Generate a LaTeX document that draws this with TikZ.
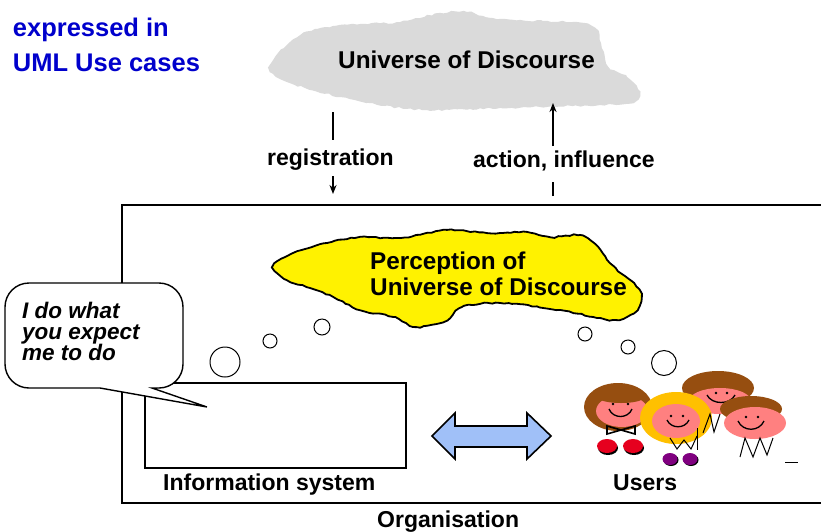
\documentclass[tikz,border=0pt]{standalone}
\usepackage{fontspec}
\setmainfont{Liberation Sans}
\usetikzlibrary{arrows.meta,decorations.pathmorphing,positioning,calc}
\definecolor{titleblue}{RGB}{0,0,204}
\definecolor{udgrey}{RGB}{218,218,218}
\definecolor{perceptyellow}{RGB}{255,242,0}
\definecolor{linkblue}{RGB}{160,192,248}
\definecolor{hairbrown}{RGB}{150,78,16}
\definecolor{hairblond}{RGB}{255,192,0}
\definecolor{skinpink}{RGB}{255,128,128}
\definecolor{shoered}{RGB}{230,0,30}
\definecolor{shoepurple}{RGB}{128,0,128}

\begin{document}
\begin{tikzpicture}[x=1pt,y=-1pt,
        lbl/.style={font=\fontsize{23}{27}\selectfont\bfseries, anchor=base west, inner sep=0pt},
        cloudtext/.style={font=\fontsize{24.3}{25.5}\selectfont\bfseries, inner sep=0pt, align=left},
        flow/.style={line width=1.6pt, -{Stealth[length=9pt,width=7pt]}},
        bubble/.style={circle, draw, line width=1pt, fill=white, inner sep=0pt},
        frame/.style={draw, line width=2pt}
    ]
    \useasboundingbox (0,0) rectangle (821,531);
    \fill[white] (0,0) rectangle (821,531);

    \node[anchor=north west, inner sep=0pt, align=left, text=titleblue,
          font=\fontsize{25.5}{35.5}\selectfont\bfseries] (title) at (12.7,17.4)
          {expressed in\\UML Use cases};

    % the world outside
    \pgfmathsetseed{7}
    \fill[udgrey, decorate, decoration={random steps, segment length=4pt, amplitude=0.9pt}]
        plot[smooth cycle, tension=0.6] coordinates {(270,67) (290,42) (317,29) (360,24) (400,22)
        (440,13) (467,12) (493,18) (543,21) (577,22) (595,28) (602,48) (608,66) (627,77) (640,92)
        (633,102) (600,105) (540,107) (470,109) (427,110) (385,106) (340,97) (305,88) (280,79)};
    \node[cloudtext, anchor=base west] (ud) at (338,68) {Universe of Discourse};

    % registration / action
    \coordinate (regA) at (333,112);
    \coordinate (regB) at (333,194);
    \node[lbl] (reg) at (267,165) {registration};
    \draw[line width=2pt] (regA) -- (regA |- 0,140);
    \draw[flow] (regA |- 0,176) -- (regB);

    \coordinate (actA) at (553,196);
    \coordinate (actB) at (553,103);
    \node[lbl] (act) at (473,167) {action, influence};
    \draw[line width=2pt] (actA) -- (actA |- 0,182);
    \draw[flow] (actA |- 0,146) -- (actB);

    % organisation
    \coordinate (orgNE) at (830,205);
    \coordinate (orgNW) at (122,205);
    \coordinate (orgSW) at (122,503);
    \coordinate (orgSE) at (830,503);
    \draw[frame, line width=2.4pt] (orgNE) -- (orgNW) -- (orgSW) -- (orgSE);
    \node[lbl] (org) at (377,527) {Organisation};

    % perception cloud
    \pgfmathsetseed{11}
    \filldraw[fill=perceptyellow, line width=1.8pt, decorate,
              decoration={random steps, segment length=4pt, amplitude=0.7pt}]
        plot[smooth cycle, tension=0.55] coordinates {(273,267) (293,253) (327,243) (360,237)
        (400,238) (447,230) (487,233) (527,232) (550,237) (580,235) (595,244) (610,263) (622,274)
        (634,283) (641,294) (637,310) (617,320) (593,317) (560,310) (500,303) (462,307) (447,320)
        (417,327) (393,317) (360,310) (333,297) (310,288) (287,280)};
    \node[cloudtext, anchor=north west] (perc) at (370,252) {Perception of\\Universe of Discourse};

    % thought bubbles
    \node[bubble, minimum width=16pt, minimum height=12pt] (tl1) at (322,327) {};
    \node[bubble, minimum width=14pt, minimum height=12pt] (tl2) at (270,341) {};
    \node[bubble, minimum width=30pt, minimum height=27pt] (tl3) at (225,362) {};
    \node[bubble, minimum width=14pt, minimum height=12pt] (tr1) at (585,334) {};
    \node[bubble, minimum width=14pt, minimum height=12pt] (tr2) at (628,347) {};
    \node[bubble, minimum width=25pt, minimum height=23pt] (tr3) at (664,363) {};

    % information system
    \node[frame, minimum width=261pt, minimum height=85pt, inner sep=0pt] (is) at (275.5,425.5) {};
    \node[lbl] (islbl) at (163,490) {Information system};

    % speech bubble
    \filldraw[fill=white, line width=1.4pt] (100,388) [rounded corners=24pt] -- (5,388) -- (5,283)
        -- (183,283) -- (183,388) [sharp corners] -- (152,388) -- (207,407) -- cycle;
    \node[anchor=north west, inner sep=0pt, align=left,
          font=\fontsize{22.5}{21}\selectfont\bfseries\itshape] (say) at (22,302)
          {I do what\\you expect\\me to do};

    % two way exchange
    \filldraw[fill=linkblue, line width=1.6pt] (432,436) -- (455,413) -- (455,426) -- (527,426)
        -- (527,413) -- (551,436) -- (527,459) -- (527,447) -- (455,447) -- (455,459) -- cycle;

    % users
    \fill[hairbrown] (718,388) ellipse (36 and 17);
    \fill[skinpink] (720,401) ellipse (31 and 13);
    \fill[black] (716,393) circle (1.3) (727,393) circle (1.3);
    \draw[line width=1.3pt] (707,395) .. controls (712,405) and (730,405) .. (735,395);

    \fill[hairbrown] (618,407) ellipse (34 and 24);
    \fill[skinpink] (622,411) ellipse (26 and 16);
    \fill[hairbrown] (621,398) ellipse (22 and 5);
    \fill[black] (613,404) circle (1.3) (628,404) circle (1.3);
    \draw[line width=1.3pt] (609,409) .. controls (613,419) and (628,419) .. (632,409);
    \draw[line width=1.6pt] (607,426) -- (635,434) -- (635,426) -- (607,434) -- cycle;
    \fill[black] (608,448) ellipse (10 and 7) (634,448) ellipse (10 and 7);
    \fill[shoered] (607,446) ellipse (10 and 7) (633,446) ellipse (10 and 7);

    \fill[hairblond] (676,418) ellipse (36 and 26);
    \fill[skinpink] (676,421) ellipse (24 and 17);
    \fill[black] (671,416) circle (1.3) (683,416) circle (1.3);
    \draw[line width=1.3pt] (667,420) .. controls (671,429) and (685,429) .. (689,420);
    \draw[line width=1pt] (670,438) -- (677,449) -- (684,440) -- (691,449) -- (697,436);
    \draw[line width=1pt] (697,428) -- (697,450);
    \fill[black] (671,460) ellipse (7.5 and 6) (691,460) ellipse (7.5 and 6);
    \fill[shoepurple] (670,459) ellipse (7.5 and 6) (690,459) ellipse (7.5 and 6);

    \draw[line width=1pt] (703,433) -- (710,414) -- (714,432) -- (720,414);

    \fill[hairbrown] (751,409) ellipse (31 and 13);
    \fill[skinpink] (755,423) ellipse (31 and 16);
    \fill[black] (746,417) circle (1.3) (758,417) circle (1.3);
    \draw[line width=1.3pt] (738,421) .. controls (743,432) and (759,432) .. (764,421);
    \draw[line width=1pt] (740,457) -- (745,438) -- (753,457) -- (760,438) -- (767,455) -- (773,438);

    \draw[line width=1pt] (785,462) -- (798,462);
    \node[lbl] (users) at (613,490) {Users};
\end{tikzpicture}
\end{document}
